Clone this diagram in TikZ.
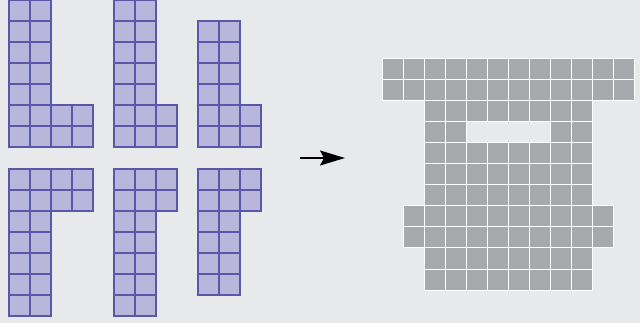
\documentclass[tikz,border=0pt]{standalone}
\usetikzlibrary{arrows.meta}
\definecolor{bg}{HTML}{E8E9EA}
\definecolor{lav}{HTML}{B9B6DC}
\definecolor{purp}{HTML}{5A56AA}
\definecolor{gcell}{HTML}{A8A9AC}
\tikzset{
  lcell/.style={fill=lav, draw=purp, line width=1.2pt},
  gbox/.style={fill=gcell, draw=white, line width=1pt},
  arr/.style={line width=1.4pt, -{Stealth[length=25pt,width=15pt,inset=4pt]}}
}
\newcommand{\lcells}[4]{% x0,y0, col list, row list
  \foreach \i in {#3}{\foreach \j in {#4}{
    \draw[lcell] ({#1+21*\i},{#2+21*\j}) rectangle ++(21,21);}}}
\newcommand{\gcells}[2]{% col list, row list
  \foreach \i in {#1}{\foreach \j in {#2}{
    \draw[gbox] ({382+21*\i},{59+21*\j}) rectangle ++(21,21);}}}
\begin{document}
\begin{tikzpicture}[x=1pt,y=-1pt]
\fill[bg] (0,0) rectangle (640,323);
\useasboundingbox (0,0) rectangle (640,323);
% top row shapes
\lcells{9}{0}{0,1}{0,...,6}
\lcells{9}{0}{2,3}{5,6}
\lcells{114}{0}{0,1}{0,...,6}
\lcells{114}{0}{2}{5,6}
\lcells{198}{21}{0,1}{0,...,5}
\lcells{198}{21}{2}{4,5}
% bottom row shapes
\lcells{9}{169}{0,...,3}{0,1}
\lcells{9}{169}{0,1}{2,...,6}
\lcells{114}{169}{0,1,2}{0,1}
\lcells{114}{169}{0,1}{2,...,6}
\lcells{198}{169}{0,1,2}{0,1}
\lcells{198}{169}{0,1}{2,...,5}
% arrow
\coordinate (a1) at (300,158);
\coordinate (a2) at (345,158);
\draw[arr] (a1) -- (a2);
% right shape
\gcells{0,...,11}{0,1}
\gcells{2,...,9}{2}
\gcells{2,3,8,9}{3}
\gcells{2,...,9}{4,5,6}
\gcells{1,...,10}{7,8}
\gcells{2,...,9}{9,10}
\end{tikzpicture}
\end{document}
